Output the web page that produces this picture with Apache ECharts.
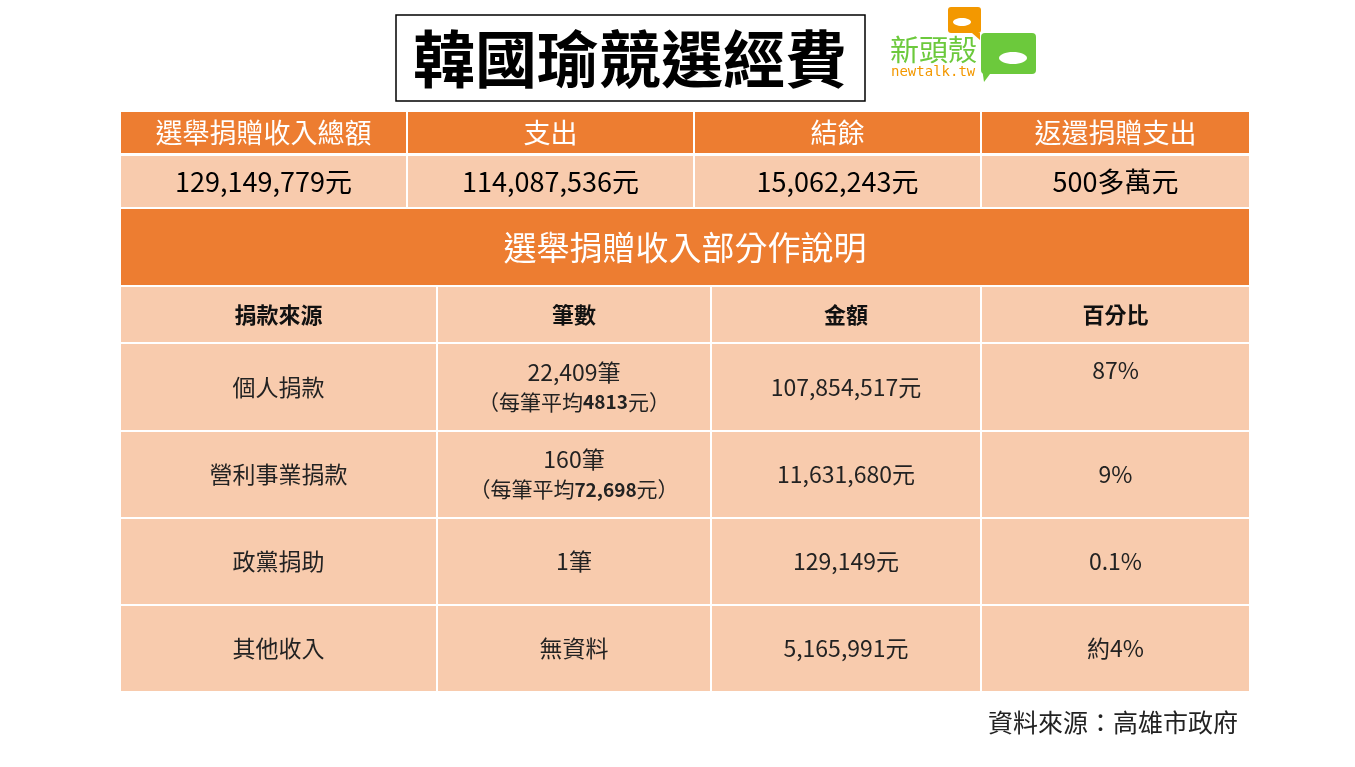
<!DOCTYPE html>
<html lang="zh-Hant">
<head>
<meta charset="UTF-8">
<title>韓國瑜競選經費</title>
<style>
  * { margin: 0; padding: 0; }
  html, body { width: 100%; height: 100%; background: #fff; }
  #chart { width: 1355px; height: 767px; }
</style>
</head>
<body>
<div id="chart"></div>
<script src="https://cdn.jsdelivr.net/npm/echarts@6/dist/echarts.min.js"></script>
<script>
  // 上方總表
  const summaryHeaders = ['選舉捐贈收入總額', '支出', '結餘', '返還捐贈支出'];
  const summaryValues = ['129,149,779元', '114,087,536元', '15,062,243元', '500多萬元'];
  const sectionTitle = '選舉捐贈收入部分作說明';
  // 明細表
  const detailHeaders = ['捐款來源', '筆數', '金額', '百分比'];
  const sources = ['個人捐款', '營利事業捐款', '政黨捐助', '其他收入'];
  const counts = ['22,409筆', '160筆', '1筆', '無資料'];
  const averages = ['4813', '72,698', '', ''];
  const amounts = ['107,854,517元', '11,631,680元', '129,149元', '5,165,991元'];
  const percents = ['87%', '9%', '0.1%', '約4%'];

  const ORANGE = '#ED7D31', PEACH = '#F8CBAD';
  const topCols = [120, 407, 694, 981, 1250];
  const botCols = [120, 437, 711, 981, 1250];
  const rows = [[111, 154], [155, 208], [208, 286], [286, 343], [343, 431], [431, 518], [518, 605], [605, 692]];

  // cell: [x0, x1, y0, y1, text, fill, color, size, weight, textY(optional)]
  const cells = [];
  summaryHeaders.forEach((t, i) => cells.push([topCols[i], topCols[i + 1], rows[0][0], rows[0][1], t, ORANGE, '#fff', 27, 'normal']));
  summaryValues.forEach((t, i) => cells.push([topCols[i], topCols[i + 1], rows[1][0], rows[1][1], t, PEACH, '#000', 27, 'normal']));
  cells.push([120, 1250, rows[2][0], rows[2][1], sectionTitle, ORANGE, '#fff', 33, 'normal']);
  detailHeaders.forEach((t, i) => cells.push([botCols[i], botCols[i + 1], rows[3][0], rows[3][1], t, PEACH, '#111', 22, 'bold']));
  sources.forEach((s, r) => {
    const [y0, y1] = rows[4 + r];
    const cnt = averages[r]
      ? '{m|' + counts[r] + '}\n{s|（每筆平均}{b|' + averages[r] + '}{s|元）}'
      : counts[r];
    cells.push([botCols[0], botCols[1], y0, y1, s, PEACH, '#222', 23, 'normal']);
    cells.push([botCols[1], botCols[2], y0, y1, cnt, PEACH, '#222', 23, 'normal']);
    cells.push([botCols[2], botCols[3], y0, y1, amounts[r], PEACH, '#222', 23, 'normal']);
    cells.push([botCols[3], botCols[4], y0, y1, percents[r], PEACH, '#222', 23, 'normal', r === 0 ? y0 + 27 : null]);
  });

  const FONT = '"Noto Sans CJK TC", sans-serif';
  const chart = echarts.init(document.getElementById('chart'));
  chart.setOption({
    animation: false,
    grid: { left: 0, right: 0, top: 0, bottom: 0 },
    xAxis: { type: 'value', min: 0, max: 1355, show: false },
    yAxis: { type: 'value', min: 0, max: 767, inverse: true, show: false },
    textStyle: { fontFamily: FONT },
    series: [{
      type: 'custom',
      data: cells,
      renderItem: function (params, api) {
        const c = cells[params.dataIndex];
        const p0 = api.coord([c[0], c[2]]);
        const p1 = api.coord([c[1], c[3]]);
        const ty = c[9] != null ? api.coord([0, c[9]])[1] : (p0[1] + p1[1]) / 2;
        return {
          type: 'group',
          children: [{
            type: 'rect',
            shape: { x: p0[0], y: p0[1], width: p1[0] - p0[0], height: p1[1] - p0[1] },
            style: { fill: c[5], stroke: '#fff', lineWidth: 2 }
          }, {
            type: 'text',
            x: (p0[0] + p1[0]) / 2, y: ty,
            style: {
              text: c[4], fill: c[6], fontSize: c[7], fontWeight: c[8],
              align: 'center', verticalAlign: 'middle', lineHeight: 32,
              fontFamily: FONT,
              rich: {
                m: { fontSize: 23, fill: '#222', lineHeight: 30, fontFamily: FONT },
                s: { fontSize: 21, fill: '#222', lineHeight: 30, fontFamily: FONT },
                b: { fontSize: 19, fontWeight: 'bold', fill: '#222', lineHeight: 30, fontFamily: FONT }
              }
            }
          }]
        };
      }
    }],
    graphic: [
      { type: 'rect', shape: { x: 396, y: 15, width: 469, height: 86 }, style: { fill: '#fff', stroke: '#000', lineWidth: 1.5 } },
      { type: 'text', x: 630, y: 59, style: { text: '韓國瑜競選經費', fontSize: 62, fontWeight: 'bold', fill: '#000', align: 'center', verticalAlign: 'middle', fontFamily: FONT } },
      // logo
      { type: 'rect', shape: { x: 948, y: 7, width: 33, height: 26, r: 3 }, style: { fill: '#F39800' } },
      { type: 'polygon', shape: { points: [[972, 33], [980, 33], [980, 40]] }, style: { fill: '#F39800' } },
      { type: 'ellipse', shape: { cx: 962, cy: 22, rx: 9, ry: 4 }, style: { fill: '#fff' } },
      { type: 'rect', shape: { x: 981, y: 33, width: 55, height: 41, r: 4 }, style: { fill: '#6CC93C' } },
      { type: 'polygon', shape: { points: [[982, 68], [990, 74], [984, 82]] }, style: { fill: '#6CC93C' } },
      { type: 'ellipse', shape: { cx: 1013, cy: 58, rx: 14, ry: 6 }, style: { fill: '#fff' } },
      { type: 'text', x: 890, y: 50, style: { text: '新頭殼', fontSize: 29, fill: '#6CC93C', verticalAlign: 'middle', fontFamily: FONT } },
      { type: 'text', x: 891, y: 72, style: { text: 'newtalk.tw', fontSize: 14, fill: '#F39800', verticalAlign: 'middle', fontFamily: '"DejaVu Sans Mono", monospace' } },
      { type: 'text', x: 1238, y: 722, style: { text: '資料來源：高雄市政府', fontSize: 25, fill: '#222', align: 'right', verticalAlign: 'middle', fontFamily: FONT } }
    ]
  });
</script>
</body>
</html>
